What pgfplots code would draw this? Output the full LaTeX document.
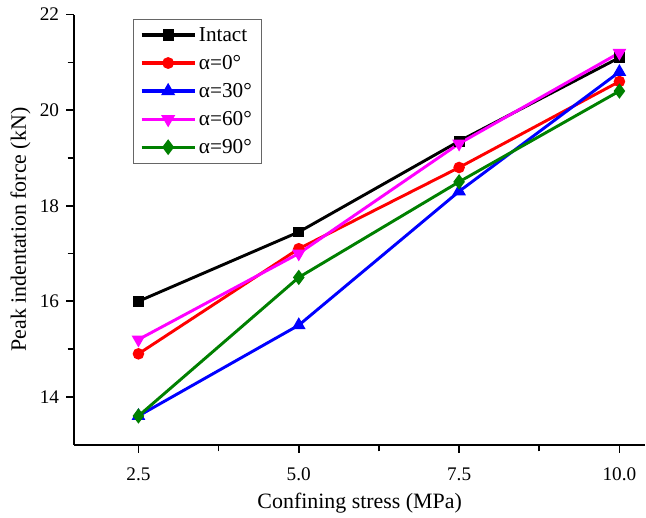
\documentclass[border=0pt]{standalone}
\usepackage{pgfplots}
\pgfplotsset{compat=1.18}
\usepackage{fontspec}
\setmainfont{Liberation Serif}
\definecolor{cgreen}{RGB}{0,128,0}
\definecolor{cmag}{RGB}{255,0,255}
\begin{document}
\begin{tikzpicture}
\begin{axis}[
    scale only axis,
    width=430pt, height=324pt,
    xmin=1.5, xmax=10.4,
    ymin=13, ymax=22,
    axis x line*=bottom,
    axis y line*=left,
    axis line style={line width=1.4pt, -},
    xtick={2.5,5,7.5,10},
    xticklabels={2.5,5.0,7.5,10.0},
    ytick={14,16,18,20,22},
    minor x tick num=1,
    minor y tick num=1,
    tick align=outside,
    major tick length=6pt,
    minor tick length=5pt,
    tick style={line width=1.2pt, black},
    /pgf/number format/assume math mode=true,
    ticklabel style={font=\rmfamily\fontsize{14.5}{17}\selectfont},
    xticklabel style={yshift=-8pt},
    yticklabel style={xshift=-2pt},
    xlabel={Confining stress (MPa)},
    ylabel={Peak indentation force (kN)},
    label style={font=\rmfamily\fontsize{16.5}{19}\selectfont},
    xlabel style={yshift=-2pt},
    legend style={at={(0.103,0.99)}, anchor=north west, draw=black!60,
        font=\rmfamily\fontsize{16}{19}\selectfont, row sep=5pt,
        inner xsep=5pt, inner ysep=4pt},
    legend cell align=left,
    legend image code/.code={
        \draw[line width=2.4pt, mark repeat=2, mark phase=2]
            plot coordinates {(0pt,0pt) (20pt,0pt) (40pt,0pt)};},
    every axis plot/.append style={line width=2.2pt},
    mark size=3.2pt,
]
\addplot[color=black, mark=square*, mark size=3pt] coordinates {
    (2.5,16.0) (5.0,17.45) (7.5,19.35) (10.0,21.1)
};
\addlegendentry{Intact}
\addplot[color=red, mark=*] coordinates {
    (2.5,14.9) (5.0,17.1) (7.5,18.8) (10.0,20.6)
};
\addlegendentry{α=0°}
\addplot[color=blue, mark=triangle*, mark size=3.8pt] coordinates {
    (2.5,13.6) (5.0,15.5) (7.5,18.3) (10.0,20.8)
};
\addlegendentry{α=30°}
\addplot[color=cmag, mark=triangle*, mark size=3.8pt, mark options={rotate=180}] coordinates {
    (2.5,15.2) (5.0,17.0) (7.5,19.3) (10.0,21.2)
};
\addlegendentry{α=60°}
\addplot[color=cgreen, mark=diamond*, mark size=4pt] coordinates {
    (2.5,13.6) (5.0,16.5) (7.5,18.5) (10.0,20.4)
};
\addlegendentry{α=90°}
\end{axis}
\path ([yshift=11pt]current axis.north west);
\path ([xshift=-56pt]current axis.south west);
\end{tikzpicture}
\end{document}
